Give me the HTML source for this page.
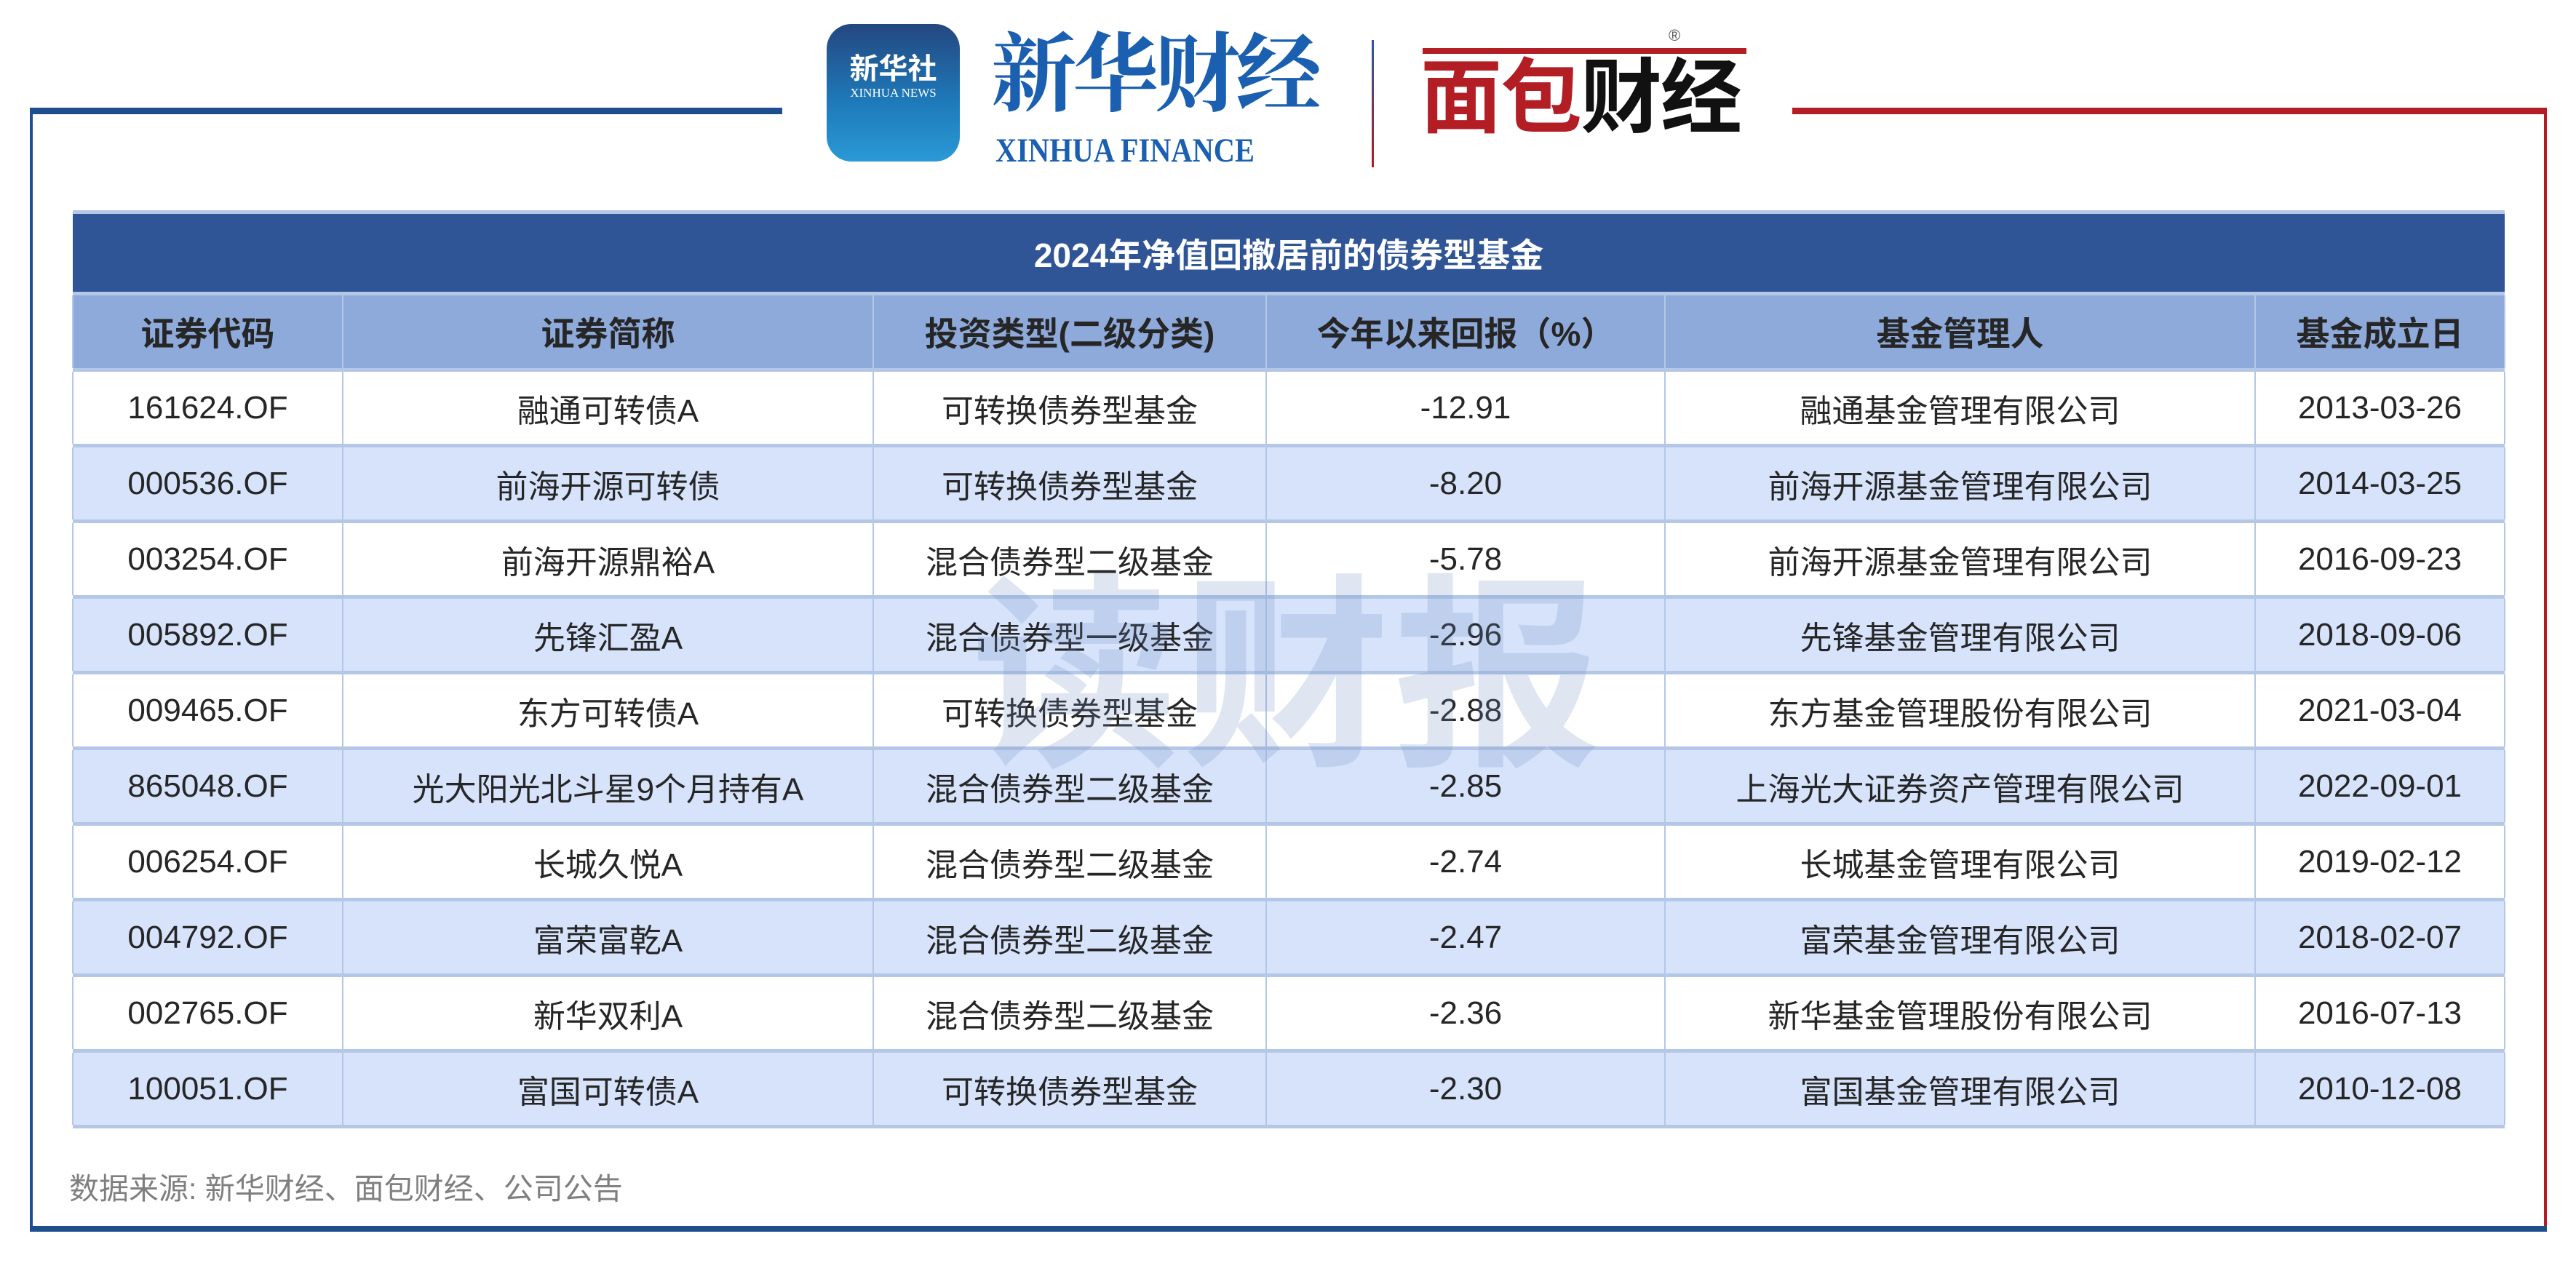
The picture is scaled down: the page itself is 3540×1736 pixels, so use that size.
<!DOCTYPE html>
<html><head><meta charset="utf-8"><style>
*{margin:0;padding:0;box-sizing:border-box}
body{width:3540px;height:1736px;background:#fff;position:relative;overflow:hidden;font-family:"Liberation Sans","Noto Sans CJK SC",sans-serif;color:#262626}
.abs{position:absolute}
table{position:absolute;left:99px;top:289px;width:3342px;border-collapse:collapse;table-layout:fixed}
td{text-align:center;font-size:44px;border-left:2px solid #b4c7e7;border-right:2px solid #b4c7e7;padding:0;white-space:nowrap}
tr.sep td{height:5px;background:#b4c7e7;border:none}
tr.r td{height:99px}
tr.alt td{background:#d6e3fb}
tr.hd td{height:100px;background:#8eaadb;font-weight:bold;font-size:46px;border-color:#b4c7e7}
tr.tt td{height:107px;background:#2f5597;color:#fff;font-weight:bold;font-size:46px;border:none}
</style></head><body>
<div class="abs" style="left:41px;top:148px;width:1034px;height:9px;background:#1f4e8f"></div>
<div class="abs" style="left:2463px;top:148px;width:1037px;height:9px;background:#b31d24"></div>
<div class="abs" style="left:41px;top:148px;width:4px;height:1545px;background:#1f4e8f"></div>
<div class="abs" style="left:3496px;top:148px;width:4px;height:1545px;background:#b31d24"></div>
<div class="abs" style="left:41px;top:1685px;width:3459px;height:8px;background:#1f4e8f"></div>
<div class="abs" style="left:1136px;top:33px;width:183px;height:189px;border-radius:34px;background:linear-gradient(#24477f,#1e78b8 55%,#2a9ad6)"></div>
<div class="abs" style="left:1136px;top:62px;width:183px;text-align:center;color:#fff;font-size:40px;font-weight:bold">新华社</div>
<div class="abs" style="left:1136px;top:118px;width:183px;text-align:center;color:#fff;font-size:17px;font-family:'Liberation Serif',serif">XINHUA NEWS</div>
<div class="abs" style="left:1362px;top:22px;font-size:118px;color:#1a5fb0;font-family:'Noto Serif CJK SC',serif;font-weight:bold;line-height:140px;letter-spacing:-6px">新华财经</div>
<div class="abs" style="left:1368px;top:180px;width:436px;font-size:47px;color:#1a5fb0;font-family:'Liberation Serif',serif;font-weight:bold;white-space:nowrap;transform:scaleX(0.86);transform-origin:left">XINHUA FINANCE</div>
<div class="abs" style="left:1885px;top:55px;width:3px;height:175px;background:linear-gradient(#2a5aa0,#b31d24)"></div>
<div class="abs" style="left:1955px;top:66px;width:445px;height:8px;background:#b31d24"></div>
<div class="abs" style="left:1952px;top:70px;font-size:112px;font-weight:bold;line-height:130px;letter-spacing:-2px"><span style="color:#b31d24">面包</span><span style="color:#111">财经</span></div>
<div class="abs" style="left:2293px;top:36px;font-size:22px;color:#555">®</div>
<table>
<colgroup><col style="width:371px"><col style="width:729px"><col style="width:540px"><col style="width:548px"><col style="width:811px"><col style="width:343px"></colgroup>
<tr class="sep"><td colspan="6"></td></tr>
<tr class="tt"><td colspan="6">2024年净值回撤居前的债券型基金</td></tr>
<tr class="sep"><td colspan="6"></td></tr>
<tr class="hd"><td>证券代码</td><td>证券简称</td><td>投资类型(二级分类)</td><td>今年以来回报（%）</td><td>基金管理人</td><td>基金成立日</td></tr>
<tr class="sep"><td colspan="6"></td></tr>
<tr class="r"><td>161624.OF</td><td>融通可转债A</td><td>可转换债券型基金</td><td>-12.91</td><td>融通基金管理有限公司</td><td>2013-03-26</td></tr>
<tr class="sep"><td colspan="6"></td></tr>
<tr class="r alt"><td>000536.OF</td><td>前海开源可转债</td><td>可转换债券型基金</td><td>-8.20</td><td>前海开源基金管理有限公司</td><td>2014-03-25</td></tr>
<tr class="sep"><td colspan="6"></td></tr>
<tr class="r"><td>003254.OF</td><td>前海开源鼎裕A</td><td>混合债券型二级基金</td><td>-5.78</td><td>前海开源基金管理有限公司</td><td>2016-09-23</td></tr>
<tr class="sep"><td colspan="6"></td></tr>
<tr class="r alt"><td>005892.OF</td><td>先锋汇盈A</td><td>混合债券型一级基金</td><td>-2.96</td><td>先锋基金管理有限公司</td><td>2018-09-06</td></tr>
<tr class="sep"><td colspan="6"></td></tr>
<tr class="r"><td>009465.OF</td><td>东方可转债A</td><td>可转换债券型基金</td><td>-2.88</td><td>东方基金管理股份有限公司</td><td>2021-03-04</td></tr>
<tr class="sep"><td colspan="6"></td></tr>
<tr class="r alt"><td>865048.OF</td><td>光大阳光北斗星9个月持有A</td><td>混合债券型二级基金</td><td>-2.85</td><td>上海光大证券资产管理有限公司</td><td>2022-09-01</td></tr>
<tr class="sep"><td colspan="6"></td></tr>
<tr class="r"><td>006254.OF</td><td>长城久悦A</td><td>混合债券型二级基金</td><td>-2.74</td><td>长城基金管理有限公司</td><td>2019-02-12</td></tr>
<tr class="sep"><td colspan="6"></td></tr>
<tr class="r alt"><td>004792.OF</td><td>富荣富乾A</td><td>混合债券型二级基金</td><td>-2.47</td><td>富荣基金管理有限公司</td><td>2018-02-07</td></tr>
<tr class="sep"><td colspan="6"></td></tr>
<tr class="r"><td>002765.OF</td><td>新华双利A</td><td>混合债券型二级基金</td><td>-2.36</td><td>新华基金管理股份有限公司</td><td>2016-07-13</td></tr>
<tr class="sep"><td colspan="6"></td></tr>
<tr class="r alt"><td>100051.OF</td><td>富国可转债A</td><td>可转换债券型基金</td><td>-2.30</td><td>富国基金管理有限公司</td><td>2010-12-08</td></tr>
<tr class="sep"><td colspan="6"></td></tr>
</table>
<div class="abs" style="left:1335px;top:790px;font-size:285px;line-height:1;font-weight:bold;color:rgba(110,140,195,0.22);letter-spacing:5px;white-space:nowrap">读财报</div>
<div class="abs" style="left:95px;top:1600px;font-size:41px;color:#7f7f7f;white-space:nowrap">数据来源: 新华财经、面包财经、公司公告</div>
</body></html>
